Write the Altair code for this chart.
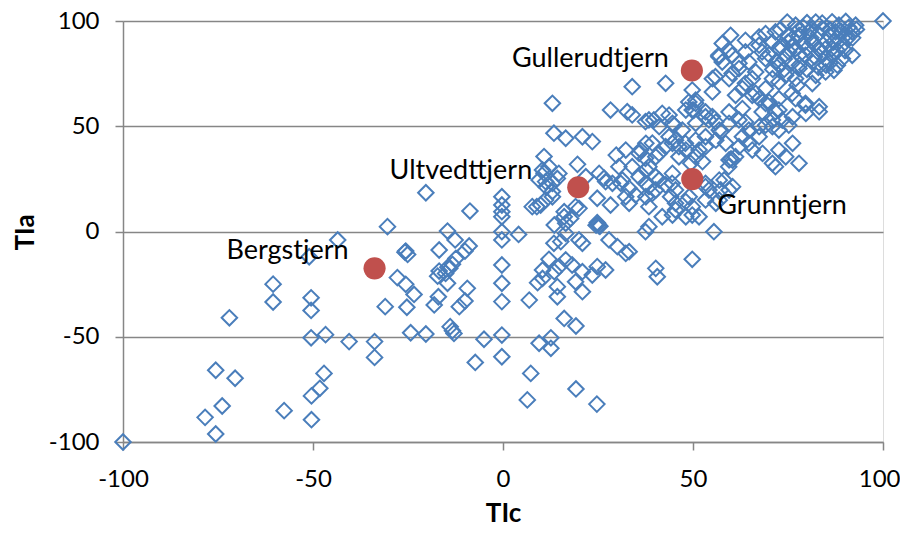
import altair as alt
import pandas as pd

# ---- data: (TIc, TIa) of each open diamond ----
diamonds = [
    # lower-left
    (-100, -100), (-43.5, -4), (-51, -12), (-60.5, -25), (-60.5, -33.5), (-50.5, -31.5),
    (-50.5, -37.5), (-72, -41), (-50.5, -50.5), (-46.7, -49), (-40.5, -52.3), (-33.8, -52.3),
    (-33.8, -59.8), (-31, -35.7), (-75.6, -65.9), (-70.5, -69.7), (-47.1, -67.4), (-48.2, -74.5),
    (-50.4, -78.1), (-73.9, -82.9), (-78.4, -88.3), (-75.6, -96.2), (-57.6, -85.1), (-50.4, -89.4),
    # centre-left
    (-20.3, 18.4), (-30.4, 2.3), (-8.7, 9.7), (-14.6, 0.2), (-12.6, -4), (-25.6, -9.3),
    (-25.1, -10.9), (-25.8, -9.8), (-16.8, -8.8), (-8.9, -6.9), (-10, -9.3), (-12.4, -12.8),
    (-13.3, -15.6), (-14, -17.5), (-14.5, -17), (-16.8, -18.8), (-17.2, -21.2), (-15.1, -19.9),
    (-14.6, -24.6), (-27.8, -21.9), (-25.6, -25.1), (-23.4, -29.9), (-25.3, -36), (-18.1, -34.9),
    (-17, -31), (-11.5, -35.7), (-10, -33), (-9.4, -27), (-24.3, -48.1), (-20.3, -48.7),
    (-13.9, -45.2), (-13.3, -47.1), (-12.9, -48.4), (-5, -51.2), (-0.3, -49.2), (-0.3, -59.5),
    (-7.3, -62.2), (-0.3, 16.5), (-0.3, 12.6), (-0.3, 9.4), (-0.3, 7), (-0.3, -0.1), (-0.3, -4),
    (4.1, -1.4), (-0.3, -15.9), (-0.3, -24.6), (-0.3, -33.3), (6.9, -32.6), (8.9, 11.8),
    (9.1, -24.3), (10.4, -22.3), (13.5, -19.1), (12.1, -13.2), (14.8, -16.7), (14.3, -31),
    (16.1, -41.3), (19.2, -44.9), (9.5, -53.1), (12.6, -50.5), (12.6, -55.5), (7.3, -67.4),
    (6.4, -80), (19.2, -74.8), (24.7, -82), (11.3, 21.3), (13, 16.5), (14.3, 25.2), (13.5, 3.1),
    (15.2, -4.8), (13, 22.9), (16.1, 7), (10.4, -18.3),
    (13, 60.9), (13.4, 46.7), (10.8, 35.6), (10.8, 27.7),
    (16.5, -13.5), (18.2, -15.9), (20.9, -19.1), (24.8, -16.7), (27, -18.3), (20.9, -28.6),
    (14.3, -26.2), (32.3, -10.4), (19.1, -23.9), (23.5, -20.7),
    # centre
    (28.3, 57.7), (32.7, 56.9), (34, 55.4), (39.7, 53), (43.7, 55.3), (45, 50.6),
    (48.1, 57.7), (50.7, 60.9), (55.1, 54.6), (57.3, 47.4), (16.5, 44.3), (20.9, 45),
    (23.5, 42.7), (12.1, 30.8), (19.6, 31.9), (29.8, 36.3), (11.2, 23.7), (13, 19),
    (14.7, 27.6), (25.3, 27.6), (26.6, 25.3), (31, 22.9), (33.2, 20.5), (34.9, 17.3),
    (9.9, 12.6), (16.1, 9.4), (17.8, 6.2), (16.5, 3.9), (20, 11), (24.8, 15.8), (28.3, 12.6),
    (33.2, 13.4), (24.5, 3), (25, 3.5), (25.5, 2.5), (24.8, 4.2), (25.2, 2.8),
    (13.4, -5.6), (20.9, -5.6), (27.9, -4), (30.1, -7.2), (33.2, -9.6), (37.5, -0.1),
    (40.2, -17.5), (40.6, -21.5), (49.8, -13.2), (55.5, -0.1), (42.8, 22.1), (44.1, 16.5),
    (39.3, 18.1), (40.2, 35.5), (46.3, 40.3), (35.8, 37.1), (37.5, 34.8), (49.4, 32.4),
    (52.5, 33.2), (44.6, 7.8), (49.8, 7.8), (45.4, 13.4), (48.1, 14.2), (58.2, 24.5),
    (57.3, 19.7), (54.2, 19.7), (53.3, 15), (56, 13.4), (41.1, 24.5), (38.4, 21.3), (34, 30.8),
    (35.8, 26), (28.8, 22.9), (30.5, 30.8), (51.6, 38.7), (53.3, 45), (58.6, 41.9),
    (36.2, 38.7), (41.1, 37.1), (44.6, 41.9), (46.3, 35.5), (50.7, 35.5), (59.5, 34),
    (60, 34.5), (60.4, 33.9), (10.4, 29.2), (9.5, 24.5), (21.8, 26), (27, 23.7), (31.4, 24.5),
    (37.5, 22.9), (40.2, 19.7), (45.4, 19.7), (53.3, 22.9), (56.9, 14.9), (60.4, 21.3),
    (7.7, 11.8), (11.2, 15), (19.1, 11.8), (32.3, 16.5), (38.4, 11.8), (41.9, 7), (48.1, 7),
    (51.6, 7), (16.5, -0.9), (20, -4), (37.5, 52.2), (41.9, 56.1),
    # centre-right
    (38.4, 53), (41.1, 49.8), (44.6, 51.4), (47.2, 48.2), (50.7, 51.4), (54.2, 53),
    (56.9, 48.2), (59.5, 51.4), (62.1, 53), (64.7, 48.2), (67.4, 49.8), (70.9, 53),
    (72.6, 48.2), (76.2, 54.5), (79.7, 56.1), (83.2, 56.9), (37.6, 41.9), (42.8, 40.3),
    (45.4, 43.4), (48.1, 38.7), (50.7, 43.4), (53.3, 40.3), (56, 43.4), (62.1, 40.3),
    (64.7, 41.9), (67.4, 45), (68.3, 37.1), (70.9, 32.4), (72.6, 38.7), (74.4, 35.5),
    (77.9, 32.4), (76.2, 41.9), (37.6, 29.2), (40.2, 26), (44.6, 27.6), (37.6, 16.5),
    (45.4, 10.2), (49, 16.5), (49.8, 11.8), (53.3, 21.3), (56.9, 24.4), (59.5, 19.7),
    (38.4, 2.3), (34, 68.8), (42.8, 70.4), (49.8, 67.2), (49.8, 57.7), (56.8, 83),
    (79.6, 60.9), (83.2, 59.3), (65.6, 38.7), (39.3, 42),
    (50.7, 62.4), (53.3, 54.5), (59.4, 86.2), (55.9, 73.5), (60.3, 75.1), (62.1, 79.9),
    (63.8, 70.4), (66.5, 65.6), (69.1, 60.9), (72.6, 57.7), (71.7, 30.8), (61.2, 35.5),
    (59.4, 30.8), (44.5, 22.9), (38.4, 30.8), (32.3, 38.7), (43.7, 45), (48, 41.9), (63, 45),
    (70.9, 49.8), (73.5, 52.9),
    # upper-right cluster
    (100, 100), (59.9, 93.2), (57.7, 89.3), (56.8, 83.7), (63.8, 90.8), (67.4, 92.4),
    (69.1, 94), (71.7, 94.8), (74.8, 99.5), (80, 99.2), (82.3, 99.5), (86.6, 99.6),
    (90.2, 99.8), (92.8, 98), (91.9, 83.7), (89.3, 82.1), (87.1, 76.6), (84.9, 75.8),
    (82.3, 74.2), (81.4, 70.3), (77.4, 69.5), (76.1, 65.5), (79.6, 60), (72.6, 63.1),
    (70, 61.5), (68.2, 56.8), (75.2, 50.5), (63, 58.4), (59.5, 56.8), (56, 52), (53.3, 56.8),
    (48.9, 61.5), (50.2, 57.6), (55.1, 66.3), (55.1, 72.6), (59.5, 72.6), (62.1, 77.4),
    (64.7, 80.5), (66.5, 75.8), (69.1, 82.1), (72.6, 79), (75.2, 85.3), (77, 86.9),
    (79.6, 83.7), (81.4, 90), (83.1, 86.9), (85.8, 93.2), (87.5, 94.8), (89.3, 88.5),
    (77.9, 93.2), (72.6, 86.9), (68.2, 85.3), (65.6, 72.6), (63, 67.9), (69.1, 67.9),
    (72.6, 71), (61.2, 64.7), (65.6, 64.7), (57.7, 80.5), (60.3, 83.7), (63.8, 85.3),
    (67.4, 88.5), (70.9, 90), (76.1, 91.6), (80.5, 94.8), (84, 96.4), (88.4, 98),
    (84.9, 82.1), (77.9, 77.4), (74.4, 74.2), (91.9, 94.8), (90.6, 91.6), (86.6, 86.9),
    (81.4, 80.5), (77, 72.6), (70.9, 72.6), (67.4, 63.1), (63.8, 52), (69.1, 50.5),
    (71.7, 56.8), (77, 63.1),
    (73, 96), (75, 93), (78, 96), (79, 89), (81, 92), (83, 94), (85, 90), (86, 96),
    (88, 92), (89, 95), (91, 97), (92, 92), (76, 88), (78, 84), (80, 87), (82, 83),
    (84, 85), (86, 80), (87, 84), (88, 86), (90, 86), (74, 82), (76, 80), (78, 79),
    (80, 77), (83, 78), (85, 79), (70, 84), (72, 81), (71, 77), (74, 77), (73, 88),
    (75, 90), (77, 98), (79, 97), (81, 96), (84, 99), (87, 90), (90, 93), (93, 96),
    (88, 79), (82, 89), (85, 87),
]
tic_values = [p[0] for p in diamonds]
tia_values = [p[1] for p in diamonds]

lakes = ["Bergstjern", "Ultvedttjern", "Gullerudtjern", "Grunntjern"]
lake_tic = [-33.8, 19.8, 49.7, 49.8]
lake_tia = [-17.5, 21.0, 76.5, 24.9]

tick_values = [-100, -50, 0, 50, 100]

# ---- styling ----
FONT = "Lato"
GRAY = "#868686"
BLUE = "#4A7EBB"
RED = "#C0504D"
label_style = {  # align, dx, dy (pixels)
    "Bergstjern": ("right", -26, -17),
    "Ultvedttjern": ("right", -46, -16),
    "Gullerudtjern": ("right", -23, -11),
    "Grunntjern": ("left", 25, 27),
}

df = pd.DataFrame({"TIc": tic_values, "TIa": tia_values})
lk = pd.DataFrame({"lake": lakes, "TIc": lake_tic, "TIa": lake_tia})

xscale = alt.Scale(domain=[-100, 100], nice=False, zero=False)
yscale = alt.Scale(domain=[-100, 100], nice=False, zero=False)

xaxis = alt.Axis(
    values=tick_values, grid=False, domainColor=GRAY, domainWidth=1.5,
    tickColor=GRAY, tickWidth=1.5, tickSize=8, labelPadding=17,
    labelFont=FONT, labelFontSize=24, labelColor="#000000", labelFlush=False,
    labelOverlap=False, labelExpr="'' + datum.value",
    labelAlign={"condition": {"test": "datum.value == 100", "value": "right"}, "value": "center"},
    labelOffset={"condition": {"test": "datum.value == 100", "value": 17}, "value": 0},
    title="TIc", titleFont=FONT, titleFontSize=26,
    titleFontWeight="bold", titleColor="#000000", titleY=79,
    titleBaseline="alphabetic",
)
yaxis = alt.Axis(
    values=tick_values, grid=True, gridColor=GRAY, gridWidth=1.5,
    domainColor=GRAY, domainWidth=1.5, tickColor=GRAY, tickWidth=1.5,
    tickSize=8, labelPadding=16, labelFont=FONT, labelFontSize=24,
    labelColor="#000000", labelFlush=False, labelOverlap=False,
    labelExpr="'' + datum.value",
    title="TIa", titleFont=FONT, titleFontSize=26, titleFontWeight="bold",
    titleColor="#000000", titleX=-90, titleY=211, titleAngle=270,
    titleBaseline="alphabetic", titleAlign="center",
)

base_pts = alt.Chart(df).mark_point(
    shape="diamond", filled=False, size=240, strokeWidth=2, color=BLUE, opacity=1
).encode(
    x=alt.X("TIc:Q", scale=xscale, axis=xaxis),
    y=alt.Y("TIa:Q", scale=yscale, axis=yaxis),
)

red = alt.Chart(lk).mark_circle(size=490, color=RED, opacity=1).encode(
    x=alt.X("TIc:Q", scale=xscale), y=alt.Y("TIa:Q", scale=yscale)
)

layers = [base_pts, red]
for name in lakes:
    align, dx, dy = label_style[name]
    layers.append(
        alt.Chart(lk).transform_filter(alt.datum.lake == name).mark_text(
            align=align, baseline="middle", dx=dx, dy=dy, font=FONT,
            fontSize=27, color="#000000"
        ).encode(
            x=alt.X("TIc:Q", scale=xscale), y=alt.Y("TIa:Q", scale=yscale),
            text="lake:N",
        )
    )

chart = alt.layer(*layers).properties(
    width=760, height=421,
    padding={"left": 115, "top": 13, "right": 17, "bottom": 80},
    autosize=alt.AutoSizeParams(type="none"),
).configure_view(stroke=None).configure(background="white")

chart.save("out.html", embed_options={"renderer": "svg", "actions": False})
